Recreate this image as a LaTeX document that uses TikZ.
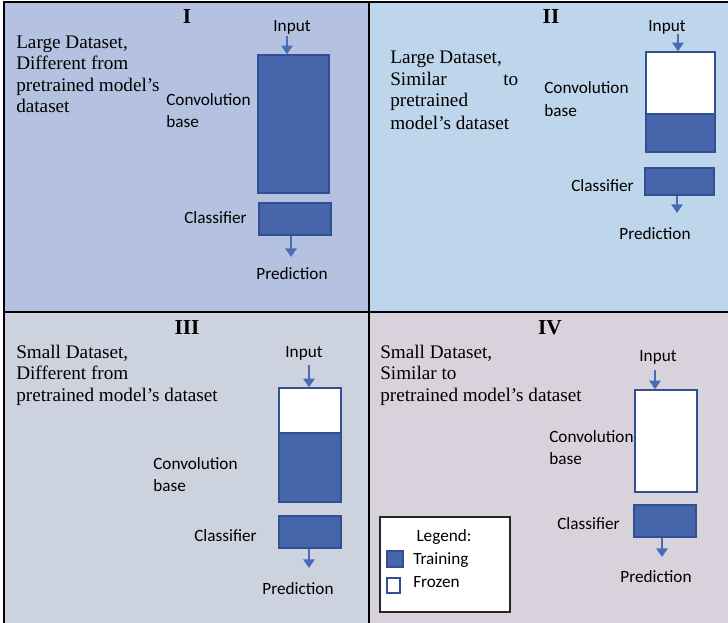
\documentclass[tikz,border=0pt]{standalone}
\usepackage{fontspec}
\setmainfont{Liberation Serif}
\newfontfamily\labelfont{Carlito}
\usetikzlibrary{arrows.meta,fit}

\definecolor{bgone}{RGB}{181,193,224}
\definecolor{bgtwo}{RGB}{190,214,236}
\definecolor{bgthree}{RGB}{204,210,222}
\definecolor{bgfour}{RGB}{216,210,221}
\definecolor{trainfill}{RGB}{71,101,170}
\definecolor{boxedge}{RGB}{50,80,145}
\definecolor{arrowblue}{RGB}{72,108,182}

\tikzset{
  x=0.75pt, y=-0.75pt,
  gridline/.style={line width=1.5pt, black},
  casetext/.style={anchor=base west, inner sep=0pt,
    font=\fontsize{14.4pt}{17pt}\selectfont},
  casetitle/.style={anchor=base, inner sep=0pt,
    font=\fontsize{16pt}{18pt}\selectfont\bfseries},
  lbl/.style={inner sep=0pt, font=\labelfont\fontsize{12.9pt}{15pt}\selectfont},
  trainbox/.style={inner sep=0pt, fill=trainfill, draw=boxedge, line width=1.1pt},
  frozenbox/.style={inner sep=0pt, fill=white, draw=boxedge, line width=1.1pt},
  flow/.style={draw=arrowblue, line width=1.4pt,
    -{Triangle[length=6.5pt,width=8.5pt]}},
}

\begin{document}
\begin{tikzpicture}
\useasboundingbox (0,0) rectangle (728,623);

% quadrant backgrounds
\fill[bgone]   (4,2) rectangle (369,312);
\fill[bgtwo]   (369,2) rectangle (728,312);
\fill[bgthree] (4,312) rectangle (369,623);
\fill[bgfour]  (369,312) rectangle (728,623);

% table rules
\draw[gridline] (4,2) -- (728,2);
\draw[gridline] (4,1.3) -- (4,623);
\draw[gridline] (369,2) -- (369,623);
\draw[gridline] (4,312) -- (728,312);

% ---------- I ----------
\node[casetitle] (ti) at (187,24) {I};
\node[casetext] (ia) at (16,49) {Large Dataset,};
\node[casetext] (ib) at (16,70) {Different from};
\node[casetext] (ic) at (16,92) {pretrained model’s};
\node[casetext] (id) at (16,113) {dataset};
\node[lbl, anchor=base] (in1) at (292,32) {Input};
\node[trainbox, fit={(258,55) (329,193)}] (conv1) {};
\node[lbl, anchor=base west] (cv1a) at (166,106) {Convolution};
\node[lbl, anchor=base west] (cv1b) at (166,128) {base};
\node[trainbox, fit={(259,203) (331,235)}] (cls1) {};
\node[lbl, anchor=base east] (cl1) at (247,224) {Classifier};
\node[lbl, anchor=base] (pr1) at (292,280) {Prediction};
\coordinate (ia1) at (287,36);
\coordinate (oa1) at (291,257);
\draw[flow] (ia1) -- (ia1 |- conv1.north);
\draw[flow] (oa1 |- cls1.south) -- (oa1);

% ---------- II ----------
\node[casetitle] (tii) at (551,24) {II};
\node[casetext] (iia) at (390,64) {Large Dataset,};
\node[casetext, text width=96pt] (iib) at (390,86) {Similar\hfill to};
\node[casetext] (iic) at (390,107) {pretrained};
\node[casetext] (iid) at (390,130) {model’s dataset};
\node[lbl, anchor=base] (in2) at (667,32) {Input};
\node[frozenbox, fit={(646,52) (715,114)}] (conv2f) {};
\node[trainbox, fit={(646,114) (715,152)}] (conv2t) {};
\node[lbl, anchor=base west] (cv2a) at (544,94) {Convolution};
\node[lbl, anchor=base west] (cv2b) at (544,117) {base};
\node[trainbox, fit={(645,168) (714,195)}] (cls2) {};
\node[lbl, anchor=base east] (cl2) at (634,192) {Classifier};
\node[lbl, anchor=base] (pr2) at (655,240) {Prediction};
\coordinate (ia2) at (678,34);
\coordinate (oa2) at (677,213);
\draw[flow] (ia2) -- (ia2 |- conv2f.north);
\draw[flow] (oa2 |- cls2.south) -- (oa2);

% ---------- III ----------
\node[casetitle] (tiii) at (187,335) {III};
\node[casetext] (iiia) at (16,359) {Small Dataset,};
\node[casetext] (iiib) at (16,380) {Different from};
\node[casetext] (iiic) at (16,402) {pretrained model’s dataset};
\node[lbl, anchor=base] (in3) at (304,358) {Input};
\node[frozenbox, fit={(279,388) (341,433)}] (conv3f) {};
\node[trainbox, fit={(279,433) (341,502)}] (conv3t) {};
\node[lbl, anchor=base west] (cv3a) at (153,469) {Convolution};
\node[lbl, anchor=base west] (cv3b) at (153,491) {base};
\node[trainbox, fit={(279,516) (341,548)}] (cls3) {};
\node[lbl, anchor=base east] (cl3) at (257,541) {Classifier};
\node[lbl, anchor=base] (pr3) at (298,594) {Prediction};
\coordinate (ia3) at (309,365);
\coordinate (oa3) at (309,568);
\draw[flow] (ia3) -- (ia3 |- conv3f.north);
\draw[flow] (oa3 |- cls3.south) -- (oa3);

% ---------- IV ----------
\node[casetitle] (tiv) at (550,335) {IV};
\node[casetext] (iva) at (380,359) {Small Dataset,};
\node[casetext] (ivb) at (380,380) {Similar to};
\node[casetext] (ivc) at (380,402) {pretrained model’s dataset};
\node[lbl, anchor=base] (in4) at (658,362) {Input};
\node[frozenbox, fit={(635,390) (697,492)}] (conv4) {};
\node[lbl, anchor=base west] (cv4a) at (549,442) {Convolution};
\node[lbl, anchor=base west] (cv4b) at (549,464) {base};
\node[trainbox, fit={(634,505) (696,537)}] (cls4) {};
\node[lbl, anchor=base east] (cl4) at (620,529) {Classifier};
\node[lbl, anchor=base] (pr4) at (656,582) {Prediction};
\coordinate (ia4) at (655,370);
\coordinate (oa4) at (662,557);
\draw[flow] (ia4) -- (ia4 |- conv4.north);
\draw[flow] (oa4 |- cls4.south) -- (oa4);

% legend
\node[fit={(380,517) (510,612)}, inner sep=0pt, fill=white, draw=black!85, line width=0.8pt] (legend) {};
\node[lbl, anchor=base] (lgt) at (444,541) {Legend:};
\node[trainbox, fit={(387,551) (403,567)}] (lgtrain) {};
\node[lbl, anchor=base west] (lgtl) at (413,564) {Training};
\node[frozenbox, fit={(387,578) (400,593)}] (lgfrozen) {};
\node[lbl, anchor=base west] (lgfl) at (413,587) {Frozen};
\end{tikzpicture}
\end{document}
